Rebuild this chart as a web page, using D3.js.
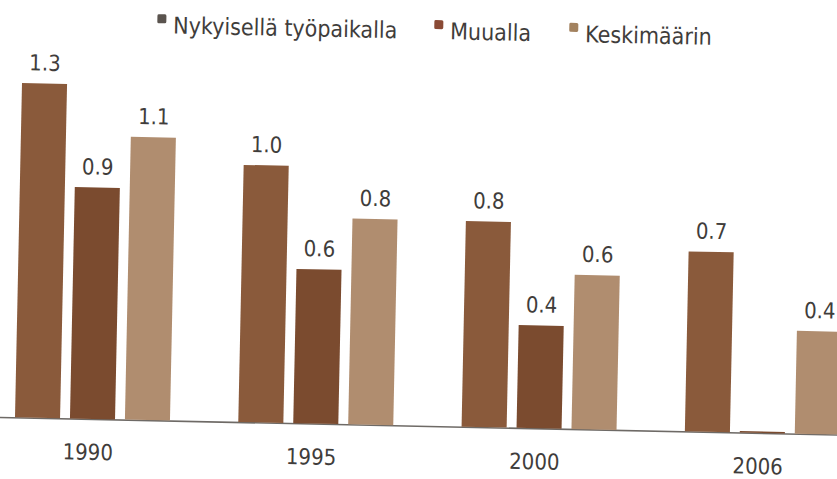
<!DOCTYPE html>
<html lang="fi">
    <head>
        <meta charset="utf-8">
        <title>Nykyisellä työpaikalla / Muualla / Keskimäärin</title>
        <script src="https://d3js.org/d3.v7.min.js"></script>
    </head>
    <style>
        body { margin: 0; background: #fff; }
        svg { display: block; }
        text { font-family: "DejaVu Sans Condensed", "Liberation Sans Narrow", "DejaVu Sans", sans-serif; fill: #3f3d3b; }
    </style>
    <body>
        <script type="text/javascript">

            var years = ["1990", "1995", "2000", "2006"];
            var keys = ["Nykyisellä työpaikalla", "Muualla", "Keskimäärin"];
            var nykyisella = [1.3, 1.0, 0.8, 0.7];
            var muualla = [0.9, 0.6, 0.4, 0.0];
            var keskimaarin = [1.1, 0.8, 0.6, 0.4];

            var barColors = ["#8a5a3b", "#7b4b2f", "#b08d6f"];
            var legendColors = ["#5a534e", "#8a4a35", "#a3825f"];

            var width = 837, height = 479,
                base = 417;   // baseline y

            var svg = d3.select("body")
                        .append("svg")
                        .attr("width", width)
                        .attr("height", height);

            // the scanned page is slightly tilted
            var g = svg.append("g").attr("transform", "rotate(1.2,0," + base + ")");

            var series = [nykyisella, muualla, keskimaarin];
            var data = years.map(function(yr, i) {
                return { year: yr, values: keys.map(function(k, j) { return { key: k, value: series[j][i] }; }) };
            });

            var x0 = d3.scaleBand()
                       .domain(years)
                       .range([15, 840])
                       .paddingInner(0.306)
                       .paddingOuter(0);

            var x1 = d3.scaleBand()
                       .domain(keys)
                       .range([0, x0.bandwidth()])
                       .paddingInner(0.18);

            var y = d3.scaleLinear()
                      .domain([0, 1.4])
                      .range([base, base - 360]);

            var z = d3.scaleOrdinal().domain(keys).range(barColors);

            // baseline
            g.append("line")
             .attr("x1", -20).attr("x2", width + 20)
             .attr("y1", base + 0.5).attr("y2", base + 0.5)
             .attr("stroke", "#6e6a66")
             .attr("stroke-width", 1.6);

            var groups = g.append("g")
                          .selectAll("g")
                          .data(data)
                          .enter().append("g")
                          .attr("transform", function(d) { return "translate(" + x0(d.year) + ",0)"; });

            groups.selectAll("rect")
                  .data(function(d) { return d.values; })
                  .enter().append("rect")
                  .attr("x", function(d) { return x1(d.key); })
                  .attr("y", function(d) { return Math.min(y(d.value), base - 1.5); })
                  .attr("width", x1.bandwidth())
                  .attr("height", function(d) { return Math.max(base - y(d.value), 1.5); })
                  .attr("fill", function(d) { return z(d.key); });

            groups.selectAll("text.value")
                  .data(function(d) { return d.values.filter(function(v) { return v.value > 0; }); })
                  .enter().append("text")
                  .attr("class", "value")
                  .attr("x", function(d) { return x1(d.key) + x1.bandwidth() / 2; })
                  .attr("y", function(d) { return y(d.value) - 13; })
                  .attr("text-anchor", "middle")
                  .attr("font-size", 22)
                  .text(function(d) { return d3.format(".1f")(d.value); });

            groups.append("text")
                  .attr("x", x0.bandwidth() / 2 - 4)
                  .attr("y", base + 41)
                  .attr("text-anchor", "middle")
                  .attr("font-size", 22)
                  .text(function(d) { return d.year; });

            // legend
            var legendX = [149, 426, 561];
            var legend = g.append("g")
                          .selectAll("g")
                          .data(keys)
                          .enter().append("g")
                          .attr("transform", function(d, i) { return "translate(" + legendX[i] + ",0)"; });

            legend.append("rect")
                  .attr("x", 0)
                  .attr("y", 11)
                  .attr("width", 9)
                  .attr("height", 9)
                  .attr("rx", 1.5)
                  .attr("fill", function(d, i) { return legendColors[i]; });

            legend.append("text")
                  .attr("x", 16)
                  .attr("y", 30)
                  .attr("font-size", 23)
                  .text(function(d) { return d; });

        </script>
    </body>
</html>
